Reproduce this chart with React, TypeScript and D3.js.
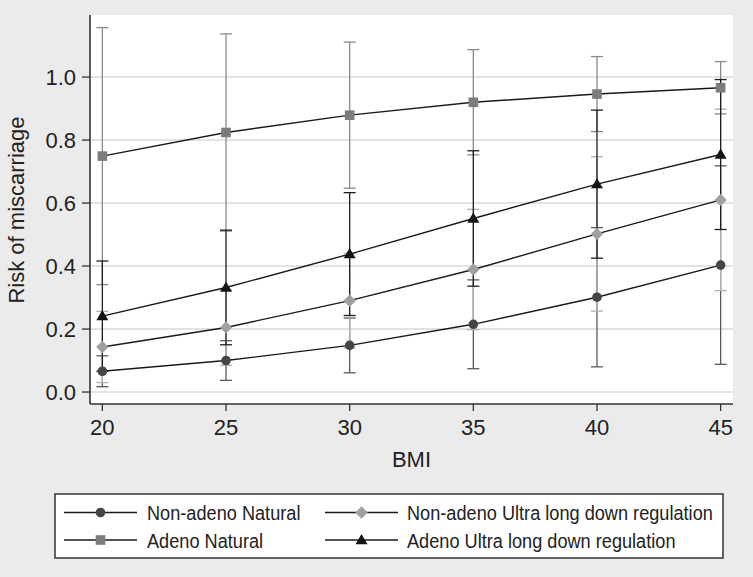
import React from 'react';
import * as d3 from 'd3';

// BMI levels on the x axis
const bmi = [20, 25, 30, 35, 40, 45];
const yTicks = [0, 0.2, 0.4, 0.6, 0.8, 1.0];

// predicted risk and 95% CI per group
const nonAdenoNatural = [0.066, 0.1, 0.148, 0.215, 0.301, 0.403];
const nonAdenoNaturalLo = [0.017, 0.037, 0.061, 0.074, 0.08, 0.088];
const nonAdenoNaturalHi = [0.115, 0.163, 0.235, 0.356, 0.522, 0.718];

const nonAdenoUltra = [0.143, 0.205, 0.29, 0.389, 0.502, 0.61];
const nonAdenoUltraLo = [0.03, 0.085, 0.14, 0.198, 0.257, 0.322];
const nonAdenoUltraHi = [0.256, 0.325, 0.44, 0.58, 0.747, 0.898];

const adenoNatural = [0.749, 0.824, 0.879, 0.92, 0.946, 0.966];
const adenoNaturalLo = [0.341, 0.511, 0.647, 0.753, 0.827, 0.883];
const adenoNaturalHi = [1.157, 1.137, 1.111, 1.087, 1.065, 1.049];

const adenoUltra = [0.241, 0.332, 0.438, 0.551, 0.66, 0.754];
const adenoUltraLo = [0.066, 0.15, 0.243, 0.336, 0.425, 0.516];
const adenoUltraHi = [0.416, 0.514, 0.633, 0.766, 0.895, 0.992];

type Series = {
  name: string;
  est: number[];
  lo: number[];
  hi: number[];
  marker: string;
  fill: string;
  ci: string;
};

const series: Series[] = [
  { name: 'Non-adeno Natural', est: nonAdenoNatural, lo: nonAdenoNaturalLo, hi: nonAdenoNaturalHi, marker: 'circle', fill: '#454545', ci: '#5a5a5a' },
  { name: 'Non-adeno Ultra long down regulation', est: nonAdenoUltra, lo: nonAdenoUltraLo, hi: nonAdenoUltraHi, marker: 'diamond', fill: '#a0a0a0', ci: '#b0b0b0' },
  { name: 'Adeno Natural', est: adenoNatural, lo: adenoNaturalLo, hi: adenoNaturalHi, marker: 'square', fill: '#7c7c7c', ci: '#8a8a8a' },
  { name: 'Adeno Ultra long down regulation', est: adenoUltra, lo: adenoUltraLo, hi: adenoUltraHi, marker: 'triangle', fill: '#141414', ci: '#1e1e1e' },
];

// legend order: left column then right column, row by row
const legendOrder = [0, 1, 2, 3];

const W = 753;
const H = 577;
const left = 90, right = 733, top = 15, bottom = 404;
const FONT = 'Arial, "Liberation Sans", Helvetica, sans-serif';

function Marker({ kind, x, y, fill }: { kind: string; x: number; y: number; fill: string }) {
  if (kind === 'circle') return <circle cx={x} cy={y} r={4.8} fill={fill} />;
  if (kind === 'square') return <rect x={x - 4.8} y={y - 4.8} width={9.6} height={9.6} fill={fill} />;
  if (kind === 'diamond') {
    const s = 6.2;
    return <path d={`M${x},${y - s}L${x + s},${y}L${x},${y + s}L${x - s},${y}Z`} fill={fill} />;
  }
  const s = 6;
  return <path d={`M${x},${y - s}L${x + s},${y + s * 0.7}L${x - s},${y + s * 0.7}Z`} fill={fill} />;
}

export default function App() {
  const x = d3.scaleLinear().domain([19.5, 45.5]).range([left, right]);
  const y = d3.scaleLinear().domain([-0.038, 1.197]).range([bottom, top]);
  const line = d3.line<number>().x((_, i) => x(bmi[i])).y(d => y(d));
  const cap = 6;

  return (
    <svg width={W} height={H} style={{ position: 'absolute', left: 0, top: 0 }} fontFamily={FONT}>
      <rect width={W} height={H} fill="#ebebeb" />
      <rect x={left} y={top} width={right - left} height={bottom - top} fill="#fff" />

      {/* grid */}
      {yTicks.map(t => (
        <line key={t} x1={left} x2={right} y1={y(t)} y2={y(t)} stroke="#dadada" strokeWidth={1.5} />
      ))}

      {/* confidence intervals */}
      {series.map(s => (
        <g key={s.name + 'ci'} stroke={s.ci} strokeWidth={1.3}>
          {bmi.map((b, i) => (
            <g key={b}>
              <line x1={x(b)} x2={x(b)} y1={y(s.lo[i])} y2={y(s.hi[i])} />
              <line x1={x(b) - cap} x2={x(b) + cap} y1={y(s.lo[i])} y2={y(s.lo[i])} />
              <line x1={x(b) - cap} x2={x(b) + cap} y1={y(s.hi[i])} y2={y(s.hi[i])} />
            </g>
          ))}
        </g>
      ))}

      {/* lines and markers */}
      {series.map(s => (
        <g key={s.name}>
          <path d={line(s.est) || ''} fill="none" stroke="#1a1a1a" strokeWidth={1.4} />
          {s.est.map((v, i) => (
            <Marker key={i} kind={s.marker} x={x(bmi[i])} y={y(v)} fill={s.fill} />
          ))}
        </g>
      ))}

      {/* axes */}
      <line x1={left} x2={left} y1={top} y2={bottom} stroke="#333" strokeWidth={1.6} />
      <line x1={left} x2={right} y1={bottom} y2={bottom} stroke="#333" strokeWidth={1.6} />
      {yTicks.map(t => (
        <g key={t}>
          <line x1={left - 8} x2={left} y1={y(t)} y2={y(t)} stroke="#333" strokeWidth={1.3} />
          <text x={left - 14} y={y(t)} dy="0.36em" textAnchor="end" fontSize={22} fill="#222">
            {d3.format('.1f')(t)}
          </text>
        </g>
      ))}
      {bmi.map(b => (
        <g key={b}>
          <line x1={x(b)} x2={x(b)} y1={bottom} y2={bottom + 7} stroke="#333" strokeWidth={1.3} />
          <text x={x(b)} y={435} textAnchor="middle" fontSize={22} fill="#222">{b}</text>
        </g>
      ))}
      <text transform={`translate(24,210) rotate(-90)`} textAnchor="middle" fontSize={22} fill="#222">
        Risk of miscarriage
      </text>
      <text x={(left + right) / 2} y={467} textAnchor="middle" fontSize={22} fill="#222">BMI</text>

      {/* legend */}
      <rect x={55} y={494} width={668} height={64} fill="#fff" stroke="#333" strokeWidth={1.5} />
      {legendOrder.map((si, k) => {
        const s = series[si];
        const col = k % 2;
        const row = Math.floor(k / 2);
        const lx = col === 0 ? 64 : 325;
        const tx = col === 0 ? 147 : 407;
        const ly = row === 0 ? 512.5 : 540;
        return (
          <g key={s.name}>
            <line x1={lx} x2={lx + 73} y1={ly} y2={ly} stroke="#1a1a1a" strokeWidth={1.4} />
            <Marker kind={s.marker} x={lx + 36.5} y={ly} fill={s.fill} />
            <text transform={`translate(${tx},${ly + 7.5}) scale(0.865,1)`} fontSize={21} fill="#222">
              {s.name}
            </text>
          </g>
        );
      })}
    </svg>
  );
}
